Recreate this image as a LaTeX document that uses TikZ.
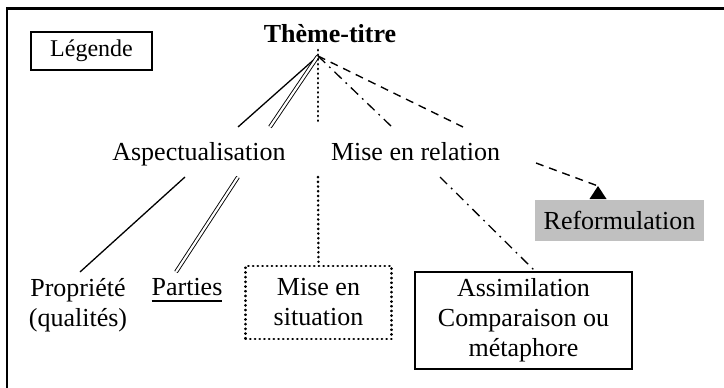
\documentclass[tikz,border=0pt]{standalone}
\usepackage{fontspec}
\setmainfont{Liberation Serif}
\definecolor{reformgray}{RGB}{192,192,192}
\newcommand\ulthick[1]{\setbox0\hbox{#1}\rlap{\rule[-7pt]{\wd0}{2pt}}\box0}
\begin{document}
\begin{tikzpicture}[x=1pt,y=-1pt,
  every node/.style={font=\fontsize{26}{30}\selectfont, inner sep=0pt, align=center},
  solidc/.style={line width=1.3pt},
  dblc/.style={double, double distance=2.2pt, line width=0.9pt},
  dotc/.style={line width=2.6pt, line cap=round, dash pattern=on 0.3pt off 4.4pt},
  dashdotc/.style={line width=1.3pt, dash pattern=on 10pt off 5.5pt on 1.8pt off 5.5pt},
  dashc/.style={line width=1.4pt, dash pattern=on 8pt off 6pt},
  boxed/.style={draw, line width=1.5pt},
  label/.style={anchor=base}]
\clip (0,0) rectangle (724,388);
% outer frame
\draw[line width=2.2pt] (7,400) -- (7,8.5) -- (740,8.5);
% nodes
\node[boxed, minimum width=121pt, minimum height=38pt, font=\fontsize{24}{28}\selectfont] (leg) at (91.5,51) {Légende};
\node[label, font=\fontsize{26}{30}\selectfont\bfseries] (title) at (330,42) {Thème-titre};
\node[label] (asp) at (199,160) {Aspectualisation};
\node[label] (rel) at (415.5,160) {Mise en relation};
\node[label] (prop) at (78,326) {Propriété\\(qualités)};
\node[label] (part) at (187,295) {\ulthick{Parties}};
\node[draw, dotc, minimum width=146pt, minimum height=73pt] (sit) at (318.5,302.5) {Mise en\\situation};
\node[boxed, minimum width=217pt, minimum height=97pt] (assim) at (523.5,320.5) {Assimilation\\Comparaison ou\\métaphore};
\node[fill=reformgray, minimum width=169pt, minimum height=41pt] (reform) at (619.5,220.5) {Reformulation};
% connector end points
\coordinate (apex) at (318,56);
\coordinate (apexdot) at (318,50);
\coordinate (aspA) at (238,127);
\coordinate (aspB) at (270,127);
\coordinate (midA) at (318,125);
\coordinate (relA) at (392,127);
\coordinate (relB) at (463,127);
\coordinate (aspC) at (185,177);
\coordinate (aspD) at (238,177);
\coordinate (propT) at (80,272);
\coordinate (partT) at (176,272);
\coordinate (midB) at (318,177);
\coordinate (relC) at (440,177);
\coordinate (assimT) at (535,271);
\coordinate (relD) at (536,163);
\coordinate (tip) at (598,186);
% connectors
\draw[solidc] (apex) -- (aspA);
\draw[dblc] (apex) -- (aspB);
\draw[dotc] (apexdot) -- (midA);
\draw[dashdotc] (apex) -- (relA);
\draw[dashc] (apex) -- (relB);
\draw[solidc] (aspC) -- (propT);
\draw[dblc] (aspD) -- (partT);
\draw[dotc] (midB) -- (sit.north);
\draw[dashdotc] (relC) -- (assimT);
\draw[dashc] (relD) -- (tip);
\fill (tip) -- ++(-8.5,13) -- ++(17,0) -- cycle;
\end{tikzpicture}
\end{document}
